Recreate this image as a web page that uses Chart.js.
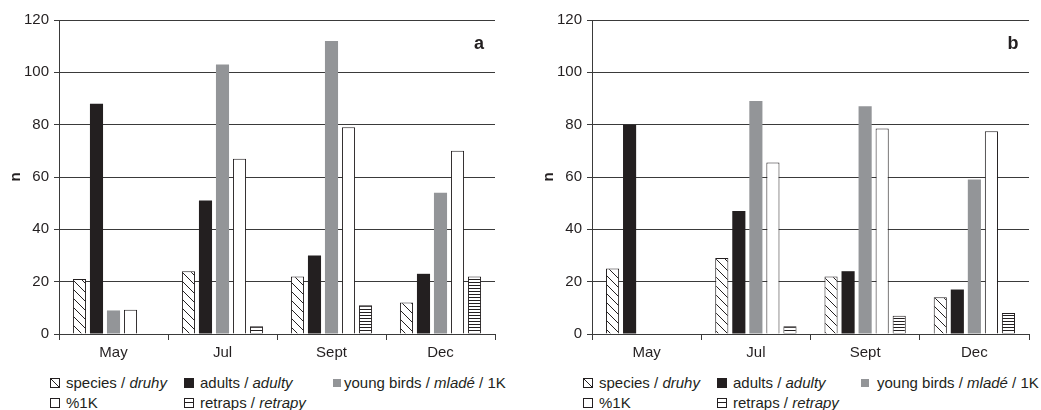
<!DOCTYPE html>
<html>
<head>
<meta charset="utf-8">
<script src="https://cdn.jsdelivr.net/npm/chart.js@4.4.1/dist/chart.umd.min.js"></script>
<style>
  body { margin: 0; background: #fff; font-family: "Liberation Sans", Arial, sans-serif; color: #231f20; }
  .wrap { position: absolute; top: 0; height: 365px; }
  .leg { position: absolute; font-size: 15px; white-space: nowrap; line-height: 17px; }
  .leg i { font-style: italic; }
  .sw { position: absolute; width: 10px; height: 10px; box-sizing: border-box; }
  .sw.hatch { border: 1px solid #231f20; background: linear-gradient(to bottom left, transparent calc(50% - 0.7px), #231f20 calc(50% - 0.7px), #231f20 calc(50% + 0.7px), transparent calc(50% + 0.7px)); }
  .sw.black { background: #231f20; }
  .sw.grey { background: #939598; width: 8px; height: 8px; margin-top: 1px; }
  .sw.white { border: 1px solid #231f20; background: #fff; }
  .sw.stripe { border: 1px solid #231f20; background: linear-gradient(to bottom, transparent 3px, #231f20 3px, #231f20 4px, transparent 4px); }
</style>
</head>
<body>
<div class="wrap" style="left:0;width:496px"><canvas id="chartA"></canvas></div>
<div class="wrap" style="left:520px;width:510px"><canvas id="chartB"></canvas></div>

<div id="legA"></div>
<div id="legB"></div>

<script>
// ==================== DATA ====================
const months = ['May', 'Jul', 'Sept', 'Dec'];
const yTicks = [0, 20, 40, 60, 80, 100, 120];

// panel a
const speciesA = [21, 24, 22, 12];
const adultsA  = [88, 51, 30, 23];
const youngA   = [9, 103, 112, 54];
const pct1KA   = [9.3, 67, 79, 70];
const retrapsA = [0, 3, 11, 22];

// panel b
const speciesB = [25, 29, 22, 14];
const adultsB  = [80, 47, 24, 17];
const youngB   = [0, 89, 87, 59];
const pct1KB   = [0, 65.5, 78.5, 77.5];
const retrapsB = [0, 3, 7, 8];

const INK = '#231f20';
const GREY = '#939598';
const AXIS = '#3a3a3a';
const FONT = '"Liberation Sans", Arial, sans-serif';

// ==================== PATTERNS ====================
function hatchPattern() {
    const s = 9;
    const c = document.createElement('canvas');
    c.width = s; c.height = s;
    const g = c.getContext('2d');
    g.fillStyle = '#fff';
    g.fillRect(0, 0, s, s);
    g.strokeStyle = INK;
    g.lineWidth = 1;
    g.beginPath();
    g.moveTo(-1, -1); g.lineTo(s + 1, s + 1);
    g.moveTo(-1, s - 1); g.lineTo(1, s + 1);
    g.moveTo(s - 1, -1); g.lineTo(s + 1, 1);
    g.stroke();
    return g.createPattern(c, 'repeat');
}

function stripePattern() {
    const c = document.createElement('canvas');
    c.width = 4; c.height = 3;
    const g = c.getContext('2d');
    g.fillStyle = '#fff';
    g.fillRect(0, 0, 4, 3);
    g.fillStyle = INK;
    g.fillRect(0, 0, 4, 1);
    return g.createPattern(c, 'repeat');
}

// ==================== PANEL LETTER ====================
const panelLetter = {
    id: 'panelLetter',
    afterDraw(chart, args, opts) {
        const { ctx, chartArea } = chart;
        ctx.save();
        ctx.font = 'bold 18px ' + FONT;
        ctx.fillStyle = INK;
        ctx.textAlign = 'center';
        ctx.textBaseline = 'middle';
        ctx.fillText(opts.text, chartArea.right - 16, chartArea.top + 24);
        ctx.restore();
    }
};

// ==================== CHART ====================
function initPanel(elementId, letter, padLeft, species, adults, young, pct, retraps) {
    const common = { borderColor: INK, borderWidth: 1, borderSkipped: 'bottom', categoryPercentage: 0.78, barPercentage: 0.77 };
    return new Chart(document.getElementById(elementId), {
        type: 'bar',
        data: {
            labels: months,
            datasets: [
                { ...common, label: 'species / druhy', data: species, backgroundColor: hatchPattern() },
                { ...common, label: 'adults / adulty', data: adults, backgroundColor: INK, borderWidth: 0 },
                { ...common, label: 'young birds / mladé / 1K', data: young, backgroundColor: GREY, borderWidth: 0 },
                { ...common, label: '%1K', data: pct, backgroundColor: '#fff' },
                { ...common, label: 'retraps / retrapy', data: retraps, backgroundColor: stripePattern() }
            ]
        },
        options: {
            responsive: true,
            maintainAspectRatio: false,
            animation: false,
            layout: { padding: { left: padLeft, top: 20, right: 1, bottom: 0 } },
            plugins: {
                legend: { display: false },
                tooltip: { enabled: false },
                panelLetter: { text: letter }
            },
            scales: {
                x: {
                    afterFit(scale) { scale.height = 31; },
                    ticks: { color: INK, font: { family: FONT, size: 15 }, padding: 4, maxRotation: 0 },
                    grid: { drawOnChartArea: false, drawTicks: true, tickLength: 6, color: AXIS, offset: true },
                    border: { color: AXIS, width: 1 }
                },
                y: {
                    min: 0,
                    max: 120,
                    afterFit(scale) { scale.width = 59; },
                    afterBuildTicks(scale) { scale.ticks = yTicks.map(v => ({ value: v })); },
                    ticks: { color: INK, font: { family: FONT, size: 15 }, padding: 5 },
                    grid: { color: AXIS, tickLength: 5 },
                    border: { color: AXIS, width: 1 },
                    title: { display: true, text: 'n', color: INK, font: { family: FONT, size: 15, weight: 'bold' }, padding: { top: 7, bottom: 0 } }
                }
            }
        },
        plugins: [panelLetter]
    });
}

initPanel('chartA', 'a', 0, speciesA, adultsA, youngA, pct1KA, retrapsA);
initPanel('chartB', 'b', 13, speciesB, adultsB, youngB, pct1KB, retrapsB);

// ==================== LEGENDS ====================
const legendItems = [
    { cls: 'hatch',  html: 'species / <i>druhy</i>', row: 0, col: 0 },
    { cls: 'black',  html: 'adults / <i>adulty</i>', row: 0, col: 1 },
    { cls: 'grey',   html: 'young birds / <i>mladé</i> / 1K', row: 0, col: 2 },
    { cls: 'white',  html: '%1K', row: 1, col: 0 },
    { cls: 'stripe', html: 'retraps / <i>retrapy</i>', row: 1, col: 1 }
];

function buildLegend(holderId, cols) {
    const holder = document.getElementById(holderId);
    legendItems.forEach(it => {
        const y = 374 + it.row * 20;
        const sw = document.createElement('span');
        sw.className = 'sw ' + it.cls;
        sw.style.left = cols[it.col][0] + 'px';
        sw.style.top = (y + 4) + 'px';
        holder.appendChild(sw);
        const tx = document.createElement('span');
        tx.className = 'leg';
        tx.style.left = cols[it.col][1] + 'px';
        tx.style.top = y + 'px';
        tx.innerHTML = it.html;
        holder.appendChild(tx);
    });
}

buildLegend('legA', [[50, 66], [184, 200], [333, 344]]);
buildLegend('legB', [[583, 599], [717, 733], [861, 877]]);
</script>
</body>
</html>
